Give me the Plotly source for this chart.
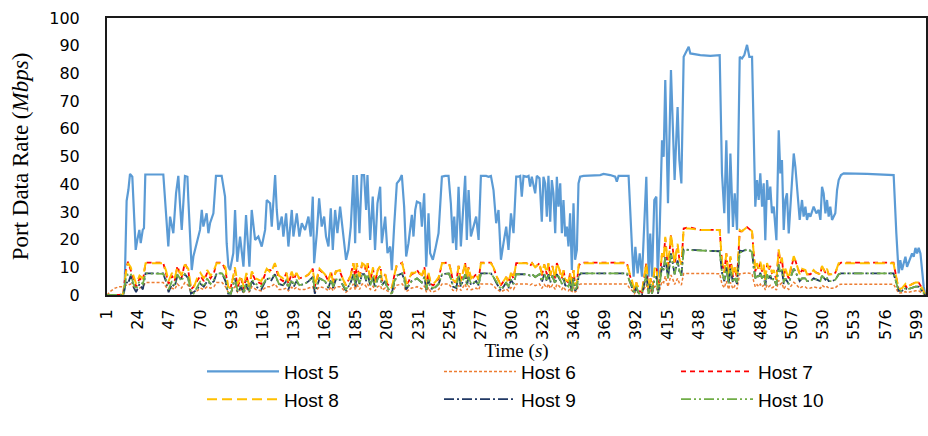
import plotly.graph_objects as go

# ---------------- data ----------------
x_tick_labels = [1, 24, 47, 70, 93, 116, 139, 162, 185, 208, 231, 254, 277, 300, 323,
                 346, 369, 392, 415, 438, 461, 484, 507, 530, 553, 576, 599]
y_ticks = [0, 10, 20, 30, 40, 50, 60, 70, 80, 90, 100]

host5_points = [
    (1, 0), (13, 0), (14, 2), (15, 20), (15.5, 34), (16.8, 38), (18, 43.7), (19.7, 42.7), (20.5, 35.5), (21.2, 24.7),
    (22.2, 16.3), (23.4, 19.9), (24.9, 23.5), (25.9, 18.7), (27.4, 23.5), (28.3, 24.1), (29.3, 43.5), (42.6, 43.5), (43.9, 34), (46.3, 17.5),
    (47.6, 28.3), (50, 22.3), (52, 36.7), (53.7, 43), (54.9, 33.1), (56.2, 23.5), (58.6, 43), (60.4, 42.7), (61.1, 34.3), (62.5, 18.7),
    (63.6, 9), (64.8, 13.9), (67.3, 18.7), (69.7, 23.5), (71, 30.7), (72.2, 24.7), (74.6, 29.5), (75.9, 22.3), (77.1, 25.9), (79.6, 29.5),
    (81.5, 43), (85.7, 43), (88.2, 35.5), (89.4, 18.7), (90.7, 10.2), (91.9, 9), (94.3, 15.1), (95.6, 30.7), (97.2, 12),
    (99.3, 21.1), (101.8, 10.2), (103.7, 28.9), (106.2, 10.2), (107.9, 30.7), (110.4, 19.9), (112.8, 21.1), (115.3, 17.5), (117.8, 23.5), (119, 34.3),
    (121.5, 33.1), (122.7, 24.7), (125.2, 43.3), (126.4, 30.7), (127.6, 23.5), (130.1, 28.3), (131.3, 21.1), (133.3, 29.5), (135, 17.5), (137.5, 30.7),
    (138.7, 21.1), (141.2, 29.5), (143.1, 21.1), (144.9, 25.9), (147.3, 23.5), (149.8, 28.3), (151.5, 21.1), (153, 35.5), (154, 11.5), (156, 22.3),
    (157.7, 34.9), (159.6, 24.7), (161.4, 28.3), (162.8, 21.1), (164.6, 17.5), (166.3, 31.3), (167.8, 16.3), (169.5, 30.7), (171.2, 22.3), (173.2, 31.9),
    (175.7, 19.9), (177.6, 12.7), (179.3, 16.3), (181.1, 24.7), (183, 43.3), (184.3, 18.7), (185.5, 43.3), (187.5, 22.3), (189.2, 43.3), (190.9, 43.3),
    (192.4, 30.7), (193.4, 43.3), (195.4, 19.9), (197.3, 35.5), (199, 16.3), (200.8, 33.1),
    (202.8, 39.1), (204, 18.7), (206.5, 28.3), (208.2, 15.1), (210.2, 17.5), (211.4, 9), (213.1, 24.7), (215.1, 40.3), (217.1, 41.5), (218.8, 43.3),
    (220.5, 31.9), (222, 13.9), (223.7, 18.7), (225, 23.5), (226.2, 28.9), (227.4, 21.1), (228.7, 30.7), (229.9, 33.7), (232.4, 33.1), (233.6, 24.7),
    (235.3, 36.7), (236.8, 10.2), (238.5, 29.5), (239.7, 15.1), (241.7, 12.7), (243.4, 16.3), (245.9, 22.3), (248.4, 42.7), (250.8, 43), (253.3, 43),
    (255, 33.1), (256.5, 18.7), (257.5, 28.3), (259, 16.3), (260.7, 39.1), (262.4, 17.5), (263.9, 28.3), (265.6, 43), (266.8, 19.9), (268.1, 37.9),
    (269.8, 21.1), (271.8, 24.7), (273.7, 28.3), (275.5, 19.9), (277.2, 43), (279.2, 43), (281.1, 43), (282.8, 42.7), (284.6, 43), (286.5, 37.9),
    (288.5, 25.9), (290.2, 30.7), (292, 12.7), (293.9, 18.7), (295.9, 24.7), (297.6, 16.3), (299.4, 29.5), (301.3, 22.3), (303.3, 42.7), (305, 42.7),
    (306.2, 43), (307.4, 35.5), (308.7, 43), (311.1, 42.7), (312.4, 43), (313.6, 39.1), (314.8, 42.7), (317.3, 36.7), (318.5, 43), (320.5, 42.1),
    (322.2, 26.5), (323.4, 42.7), (324.7, 40.3), (325.9, 28.3), (327.1, 43), (328.4, 26.5), (329.6, 41.5), (330.8, 36.7), (332.1, 22.3), (333.3, 42.7),
    (334.5, 31.9), (335.8, 40.3), (337, 22.3), (338.2, 34.3), (339.5, 21.1), (340.7, 24.7), (341.9, 17.5), (343.1, 29.5), (344.4, 9), (345.6, 33.1),
    (346.8, 12.7), (348.1, 16.3), (349.3, 40.3), (350.5, 42.7), (353, 43), (365.3, 43.3), (367.8, 43.7), (372.7, 43.3), (376.4, 42.7), (377.6, 40.9),
    (378.9, 43), (385, 43),
    (386.3, 43), (388.8, 17.4), (390, 6.6), (391.3, 17.4), (393, 7.8), (394.5, 15), (396.2, 6.6), (399.4, 42.7), (401.1, 6.6), (402.3, 22.2),
    (403.6, 6.6), (405.3, 34.3), (406.8, 35.5), (407.8, 6.6), (409.2, 22.2), (411, 55.9), (412.2, 49.9), (413.4, 77.6), (415.4, 33.1), (417.6, 81.2),
    (419.1, 60.7), (420.3, 41.5), (422.5, 67.9), (423.8, 48.7), (425.3, 40.3), (427, 86), (430.7, 89.6), (431.9, 87.2), (439.3, 86.6), (446.7, 86.3),
    (453.6, 86.6), (455.3, 43.9), (457, 29.5), (458.5, 55.9), (460.2, 22.2), (461.5, 51.1), (463.4, 24.6), (464.7, 36.7), (466.4, 23.5), (468.4, 86),
    (470.1, 85.4), (471.8, 86.6), (473.8, 90.3), (475.5, 86), (477.5, 86), (478.7, 55.9), (479.9, 31.9), (481.2, 41.5), (482.4, 34.3), (483.6, 43.9),
    (484.9, 31.9), (486.1, 40.3), (487.3, 19.8), (488.6, 41.5), (489.8, 34.3), (491, 39.1), (492.2, 29.5), (493.5, 31.9), (495.5, 19.8), (497.2, 59.5),
    (498.4, 43.9), (499.6, 48.7), (500.9, 23.5), (502.1, 34.3), (503.3, 36.7), (504.6, 22.2), (505.8, 31.9), (507, 39.1), (508.3, 51.1), (509.5, 46.3),
    (510.7, 39.1), (512.7, 27.1), (514.4, 34.3), (515.6, 28.3), (516.9, 31.9), (518.1, 27.1), (519.3, 29.5), (520.6, 28.3), (523, 31.9), (525, 29.5),
    (526.7, 30.7), (528, 27.1), (529.2, 39.1), (530.4, 36.7), (531.7, 29.5), (532.9, 34.3), (534.1, 28.3), (535.3, 31.9), (536.6, 27.1), (539, 29.5),
    (540.3, 37.9), (541.5, 41.5), (543.2, 43.3), (545.2, 43.9), (562.4, 43.7), (582.1, 43.3), (584.1, 22.2), (585.8, 7.8), (587, 12.6), (588.3, 9),
    (589.5, 11.4), (590.8, 13.8), (592, 10.2), (594.5, 13.8), (595.7, 15), (596.9, 13.8), (598.2, 17), (599.4, 15), (600.6, 17), (601.9, 15),
    (603.1, 9), (604.3, 3), (605.5, 0),
]

t_small = [
    1, 4, 7, 10, 13, 15, 16.5, 18.5, 20.5, 22.5,
    25, 27.5, 29.5, 42.5, 44.5, 46.5, 49, 51, 53, 56,
    58.5, 61, 63, 65, 67.5, 70, 72.5, 75, 77.5, 80,
    82, 86, 88.5, 90.5, 92.5, 95.5, 97.5, 100, 102, 104,
    106, 108, 111, 115, 119, 122, 125, 128, 131, 133.5,
    135, 137.5, 139, 141, 143, 147, 150, 153, 154.5, 158,
    162, 164.5, 166.5, 168, 170, 173, 175.5, 177.5, 181, 183,
    184.5, 185.5, 187.5, 189.5, 191, 192.5, 193.5, 195.5, 197.5, 199,
    201, 203, 204, 206.5, 208, 211.5, 213, 215, 219, 220.5,
    222, 224, 226, 228.5, 230, 233.5, 235.5, 237, 238.5, 240,
    242, 244, 246, 248.5, 253.5, 255, 256.5, 259, 260.7, 262.4,
    265.6, 267, 268, 270, 273.7, 275.5, 277.2, 284.6, 286.5, 288.5,
    292, 295.9, 297.6, 299.4, 301.3, 303.3, 311, 313.6, 315, 317.3,
    320.5, 322.2, 324, 325.9, 327.1, 328.4, 330, 332.1, 333.3, 335,
    337, 338.2, 339.5, 341.9, 343.1, 344.4, 345.6, 346.8, 348.1, 349.5,
    351, 385, 387, 389, 390.5, 392, 394, 396.2, 399.4, 401,
    402.5, 403.6, 405.5, 407, 408, 409.3, 411, 412.2, 413.4, 415.4,
    417.6, 419.1, 420.3, 422.5, 423.8, 425.3, 427, 431, 439, 447,
    453.6, 455.3, 457, 458.5, 460.2, 461.5, 463.4, 464.7, 466.4, 468.4,
    470, 473.8, 477.5, 478.7, 479.9, 481.2, 482.4, 483.6, 484.9, 486.1,
    487.3, 488.6, 489.8, 491, 492.2, 493.5, 495.5, 497.2, 498.4, 499.6,
    500.9, 502.1, 504.6, 505.8, 508.3, 509.5, 510.7, 512.7, 514.4, 516.9,
    518.1, 520.6, 523, 525, 528, 529.2, 531.7, 532.9, 534.1, 536.6,
    539, 541.5, 543.2, 582, 584, 585.8, 588.3, 590.8, 592, 595.7,
    598.2, 600.6, 603.1, 605.5,
]

host6 = [
    0, 1.5, 2.5, 3, 3, 3.5, 3.5, 4, 3, 1.5,
    2.5, 3, 4.5, 4.5, 3, 1.5, 2.5, 2, 4, 2.5,
    4.5, 3.5, 1, 1, 1.5, 2.5, 2, 3, 2.5, 3,
    4.5, 4.5, 3, 1, 1, 3, 1, 2, 1, 2.5,
    1, 3, 2, 1.5, 3, 3, 4, 2, 2, 2.5,
    1.5, 2.8, 2, 2.8, 2, 2, 2.5, 3, 1, 3,
    2.5, 1.5, 3, 1.5, 3, 3, 2, 1, 2.3, 4,
    1.8, 4, 2, 4, 4, 3, 4, 2, 3.2, 1.5,
    3, 3.5, 1.8, 2.5, 1.5, 0.8, 2, 3.5, 4, 3,
    1.2, 1.8, 2.5, 2.7, 3, 2.2, 3.3, 1, 2.7, 1.3,
    1.2, 1.5, 2, 4, 4, 3, 1.7, 1.5, 3.5, 1.6,
    4, 1.8, 3.4, 1.9, 2.5, 1.8, 4, 4, 3.4, 2.3,
    1.1, 2.2, 1.5, 2.7, 2, 4, 4, 3.6, 4, 3.4,
    4, 2.4, 3.8, 2.6, 4, 2.4, 3.6, 2, 3.9, 3.2,
    2, 3, 1.9, 1.5, 2.6, 0.8, 3, 1.1, 1.5, 3.7,
    4, 4, 2.5, 1.5, 0.5, 1.5, 0.5, 0.5, 3.8, 0.5,
    2, 0.5, 3, 3.2, 0.5, 2, 5, 4.5, 6.8, 3,
    7.2, 5.5, 3.8, 6, 4.3, 3.6, 7.8, 7.8, 7.8, 7.8,
    7.7, 3.9, 2.6, 5, 2, 4.6, 2.2, 3.3, 2.1, 7.7,
    7.7, 8, 7.7, 5, 2.9, 3.7, 3, 3.9, 2.9, 3.6,
    1.8, 3.7, 3, 3.5, 2.6, 2.9, 1.8, 5.3, 3.9, 4.4,
    2.1, 3, 2, 2.9, 4.6, 4.1, 3.5, 2.4, 3, 2.9,
    2.4, 2.5, 2.9, 2.6, 2.4, 3.5, 2.6, 3, 2.5, 2.4,
    2.6, 3.7, 3.9, 3.9, 2, 0.7, 0.8, 1.2, 0.9, 1.3,
    1.5, 1.5, 0.8, 0,
]

host7 = [
    0, 0, 0, 0, 0.5, 9, 12, 9, 6, 3,
    6, 5, 11.7, 11.7, 8, 4, 7, 5, 10.5, 6,
    11.5, 9, 2, 3, 5, 7, 5, 8, 6, 8,
    11.7, 11.7, 9, 2, 3, 9, 3, 6, 2, 7,
    3, 8, 5, 4, 9, 9, 11, 6, 5, 8,
    4, 8, 5.5, 8, 6, 6.5, 7.5, 9.5, 3, 9,
    7.5, 5, 8.5, 4.5, 8.5, 8.5, 5.5, 3.5, 7, 11.5,
    5, 11.5, 6, 11.5, 11.5, 8, 11.5, 5.5, 9.5, 4.5,
    9, 10.5, 5, 7.5, 4, 2.5, 6.5, 10.5, 11.7, 8.5,
    3.5, 5, 7.5, 8, 9, 6.5, 10, 3, 8, 4,
    3.5, 4.5, 6, 11.5, 11.7, 9, 5, 4.5, 10.5, 4.8,
    11.5, 5.5, 10, 5.5, 7.5, 5.5, 11.7, 11.7, 10, 7,
    3.5, 6.5, 4.5, 8, 6, 11.5, 11.5, 10.5, 11.5, 10,
    11.5, 7, 11, 7.5, 11.5, 7, 10.5, 6, 11.5, 9.5,
    6, 9, 5.5, 4.5, 8, 2.5, 9, 3.5, 4.5, 10.5,
    11.7, 11.7, 7.5, 4.5, 1.5, 4.5, 1.5, 1, 11.5, 1.5,
    6, 1.5, 9, 9.5, 2, 6, 15, 13.5, 20.5, 9,
    21.5, 16, 11, 18, 13, 11, 24, 24.5, 23.5, 23.5,
    23.5, 11.5, 8, 15, 6, 13.5, 6.5, 10, 6, 23,
    23, 24.5, 23, 15, 8.5, 11, 9, 11.5, 8.5, 10.5,
    5.5, 11, 9, 10.5, 8, 8.5, 5.5, 16, 11.5, 13,
    6.5, 9, 6, 8.5, 13.5, 12.5, 10.5, 7.5, 9, 8.5,
    7.5, 7.5, 8.5, 8, 7.5, 10.5, 8, 9, 7.5, 7.5,
    8, 11, 11.7, 11.7, 6, 2, 2.5, 3.5, 2.5, 4,
    4.5, 4.5, 2.5, 0,
]

host8 = [
    0, 0, 0, 0, 0.5, 8, 11.5, 10, 7, 4,
    7, 6, 11.5, 11.5, 9, 5, 8, 6, 10, 7,
    11, 9.5, 3, 2.5, 6, 8, 6, 9, 7, 9,
    11.5, 11.5, 10, 3, 2.5, 10, 4, 7, 3, 8,
    3, 8.5, 6, 5, 9.5, 8, 11.5, 7, 6, 8,
    5, 8.5, 6, 8, 6, 6.5, 7.5, 9.5, 3.5, 9.5,
    7.5, 5, 8.5, 4.5, 8.5, 9, 5.5, 3.5, 7, 11.5,
    5.5, 11.5, 6.5, 11.5, 11, 8.5, 11.5, 5.5, 10, 4.5,
    9, 10.5, 5.5, 7.5, 4.5, 2.5, 6.5, 11, 11.5, 8.5,
    4, 5.5, 8, 8, 9, 7, 10, 3, 8, 4.5,
    4, 5, 6.5, 11.5, 11.5, 9, 5.5, 4.5, 10.5, 5,
    11.5, 5.5, 10, 6, 7.5, 5.5, 11.5, 11.5, 10, 7,
    3.5, 6.5, 4.5, 8, 6, 11.5, 11.5, 10.5, 11.5, 10,
    11.5, 7.5, 11, 8, 11.5, 7, 10.5, 6, 11.5, 9.5,
    6, 9, 5.5, 5, 8, 2.5, 9, 3.5, 4.5, 11,
    11.5, 11.5, 8, 5, 1.5, 4.5, 2, 1.5, 11.5, 2,
    6, 2, 9.5, 10, 2, 6, 15, 13.5, 21, 9.5,
    22, 16.5, 11.5, 18.5, 13, 11, 24, 24, 23.5, 23.5,
    23.5, 12, 8, 15, 6.5, 14, 7, 10, 6.5, 23.5,
    23, 24.5, 23, 15, 9, 11.5, 9.5, 12, 9, 11,
    5.5, 11.5, 9.5, 10.5, 8, 9, 5.5, 16.5, 12, 13.5,
    6.5, 9.5, 6, 9, 14, 12.5, 10.5, 7.5, 9.5, 9,
    7.5, 7.5, 9, 8, 7.5, 10.5, 8, 9.5, 7.5, 7.5,
    8, 11.5, 11.5, 11.5, 6.5, 2, 2.5, 4, 3, 4,
    4.5, 4.5, 2.5, 0,
]

host9 = [
    0, 0, 0, 0, 0, 5, 4, 7, 3, 1,
    4, 2, 7.8, 7.8, 5, 1, 4, 3, 7, 6,
    7.5, 6, 0.5, 1, 2, 4, 3, 5, 4, 5,
    7.8, 7.8, 5, 0.5, 0.5, 6, 1, 3, 0.5, 4,
    1, 5, 3, 2, 6, 5, 7.5, 4, 3.5, 5,
    2, 5.5, 3, 5, 3.5, 4, 5, 6.5, 0.5, 6,
    5, 2.5, 5.5, 2.5, 5.5, 5.5, 3.5, 1.5, 4.5, 7.5,
    3, 7.5, 4, 7.5, 7.5, 5, 7.5, 3.5, 6.5, 2.5,
    6, 7, 3.5, 5, 2.5, 1, 4, 7, 7.8, 5.5,
    2, 3.5, 5, 5.5, 6, 4.5, 6.5, 1.5, 5.5, 2.5,
    2, 3, 4, 7.5, 7.8, 6, 3, 2.5, 7, 3,
    7.5, 3.5, 6.5, 3.5, 5, 3.5, 7.8, 7.8, 6.5, 4.5,
    1.5, 4.5, 2.5, 5.5, 4, 7.5, 7.5, 7, 7.5, 6.5,
    7.5, 4.5, 7.5, 5, 7.5, 4.5, 7, 4, 7.5, 6,
    4, 6, 3.5, 3, 5, 1, 6, 1.5, 2.5, 7,
    7.8, 7.8, 5, 2.5, 0.5, 2.5, 0.5, 0, 7.5, 0.5,
    4, 0.5, 6, 6.5, 0.5, 4, 10.5, 9, 14, 6,
    15, 11, 7.5, 12.5, 8.5, 7, 16.5, 16.3, 16.2, 16,
    15.8, 8, 5, 10, 4, 9.5, 4.5, 6.5, 4, 16,
    15.8, 16.5, 15.8, 10, 6, 7.5, 6, 8, 6, 7,
    3.5, 7.5, 6, 7, 5, 6, 3.5, 11, 8, 9,
    4, 6, 4, 6, 9.5, 8.5, 7, 5, 6, 6,
    5, 5, 6, 5.5, 5, 7, 5.5, 6, 5, 5,
    5.5, 7.5, 7.8, 7.8, 4, 1.5, 1.5, 2.5, 2, 2.5,
    3, 3, 1.5, 0,
]

host10 = [
    0, 0, 0, 0, 0, 6, 7.5, 7.8, 4, 2,
    5, 4, 7.8, 7.6, 6, 2, 5, 3.5, 7.5, 5,
    7.5, 6, 1, 0.5, 3, 5, 3, 6, 4, 5.5,
    7.8, 7.8, 6, 1, 0.5, 6, 1.5, 4, 1, 5,
    1.5, 5.5, 4, 3, 6, 6, 7.5, 4, 3.5, 5.5,
    3, 5.5, 3.5, 5.5, 3.5, 4, 5, 6.5, 2, 6,
    5, 3, 5.5, 3, 5.5, 6, 3.5, 2, 4.5, 7.5,
    3.5, 7.5, 4, 7.5, 7.5, 5.5, 7.5, 3.5, 6.5, 3,
    6, 7, 3.5, 5, 3, 0, 4.5, 7, 7.8, 6,
    2.5, 3.5, 5, 5.5, 6, 4.5, 6.5, 2, 5.5, 3,
    2.5, 3, 4, 7.5, 7.8, 6, 3.5, 3, 7, 3.5,
    7.5, 3.5, 6.5, 4, 5, 3.5, 7.8, 7.8, 6.5, 5,
    2, 4.5, 3, 5.5, 4, 7.5, 7.5, 7, 7.5, 6.5,
    7.5, 5, 7.5, 5.5, 7.5, 5, 7, 4, 7.5, 6.5,
    4, 6, 4, 3, 5.5, 1, 6, 2, 3, 7,
    7.8, 7.8, 5, 3, 0.5, 3, 0.5, 0.5, 7.5, 0.5,
    4, 0.5, 6.5, 6.5, 1, 4, 10, 9, 13.5, 6,
    14.5, 11, 7.5, 12, 9, 7, 16.2, 16.2, 16, 16,
    15.8, 8, 5.5, 10, 4, 9, 4.5, 6.5, 4.5, 15.5,
    15.5, 16.5, 15.5, 10, 6, 7.5, 6, 8, 6, 7,
    3.5, 7.5, 6, 7, 5.5, 6, 3.5, 11, 8, 9,
    4.5, 6, 4, 6, 9.5, 8.5, 7, 5, 6, 6,
    5, 5, 6, 5.5, 5, 7, 5.5, 6, 5, 5,
    5.5, 7.5, 7.8, 7.8, 4, 1.5, 1.5, 2.5, 2, 2.5,
    3, 3, 1.5, 0,
]

series_names = ["Host 5", "Host 6", "Host 7", "Host 8", "Host 9", "Host 10"]

# ---------------- figure ----------------
h5_t = [p[0] for p in host5_points]
h5_v = [p[1] for p in host5_points]

styles = {
    "Host 5": dict(color="#5B9BD5", width=2.2, dash="solid"),
    "Host 6": dict(color="#ED7D31", width=1.5, dash="3px,2px"),
    "Host 7": dict(color="#FF0000", width=1.8, dash="5px,4px"),
    "Host 8": dict(color="#FFC000", width=2, dash="10px,5px"),
    "Host 9": dict(color="#203864", width=1.8, dash="10px,3px,2px,3px"),
    "Host 10": dict(color="#70AD47", width=1.8, dash="10px,3px,2px,3px,2px,3px"),
}
legend_of = {"Host 5": "legend", "Host 6": "legend", "Host 7": "legend",
             "Host 8": "legend2", "Host 9": "legend2", "Host 10": "legend2"}

fig = go.Figure()
fig.add_trace(go.Scatter(x=h5_t, y=h5_v, mode="lines", name="Host 5",
                         line=styles["Host 5"], legend=legend_of["Host 5"]))
for name, vals in zip(series_names[1:], [host6, host7, host8, host9, host10]):
    fig.add_trace(go.Scatter(x=t_small, y=vals, mode="lines", name=name,
                             line=styles[name], legend=legend_of[name]))

tick_font = dict(family="DejaVu Sans", size=16, color="#000000")
title_font = dict(family="Liberation Serif", size=19, color="#000000")
legend_common = dict(
    orientation="h", x=0.116, xanchor="left", yanchor="top",
    font=dict(family="Liberation Sans", size=19, color="#000000"),
    itemwidth=72, entrywidth=150, entrywidthmode="pixels",
    tracegroupgap=0, bgcolor="rgba(0,0,0,0)",
)

fig.update_layout(
    width=928, height=436,
    margin=dict(l=107, r=2, t=18, b=141, autoexpand=False),
    paper_bgcolor="white", plot_bgcolor="white",
    showlegend=True,
    legend=dict(legend_common, y=-0.208),
    legend2=dict(legend_common, y=-0.308),
    xaxis=dict(
        range=[1, 606], tickmode="array",
        tickvals=x_tick_labels, ticktext=[str(v) for v in x_tick_labels],
        tickangle=-90, tickfont=tick_font, ticks="", ticklabelstandoff=6,
        showgrid=False, zeroline=False,
        showline=True, linecolor="#1a1a1a", linewidth=2, mirror=True,
        title=dict(text="Time (<i>s</i>)", font=title_font, standoff=4),
    ),
    yaxis=dict(
        range=[0, 100], tickmode="array", tickvals=y_ticks,
        ticktext=[str(v) for v in y_ticks],
        tickfont=tick_font, ticks="", ticklabelstandoff=22,
        showgrid=False, zeroline=False,
        showline=True, linecolor="#1a1a1a", linewidth=2, mirror=True,
        title=dict(text="Port Data Rate (<i>Mbps</i>)",
                   font=dict(family="Liberation Serif", size=23, color="#000000"), standoff=14),
    ),
)

fig.write_html("out.html",
               config={"displayModeBar": False},
               post_script="document.body.style.margin='0px';document.body.style.overflow='hidden';")
